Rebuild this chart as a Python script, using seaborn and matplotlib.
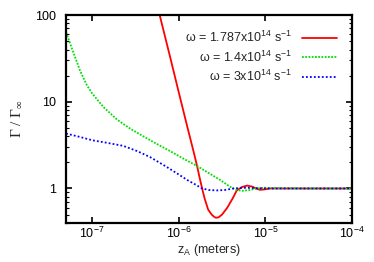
import numpy as np
import pandas as pd
import matplotlib
matplotlib.use('Agg')
import matplotlib.pyplot as plt
import matplotlib.ticker as mticker
import seaborn as sns

# values (log10 of z_A in metres, Gamma/Gamma_inf)
red_logz = [-6.30, -6.22, -6.10, -6.00, -5.90, -5.83, -5.79, -5.76, -5.73, -5.70,
            -5.66, -5.62, -5.59, -5.57, -5.54, -5.50, -5.44, -5.38, -5.33, -5.27, -5.21,
            -5.15, -5.10, -5.06, -5.01, -4.95, -4.89, -4.5, -4.0]
red_g = [210, 100, 33, 12.9, 5.1, 2.7, 1.85, 1.35, 1.0, 0.76,
         0.57, 0.50, 0.47, 0.46, 0.465, 0.50, 0.60, 0.76, 0.95, 1.04, 1.08,
         1.05, 0.99, 0.965, 0.975, 1.0, 1.0, 1.0, 1.0]

green_logz = [-7.30, -7.22, -7.14, -7.06, -7.00, -6.87, -6.71, -6.56, -6.41, -6.25, -6.10,
              -5.95, -5.79, -5.65, -5.52, -5.41, -5.33, -5.26, -5.18, -5.10, -5.00, -4.90,
              -4.5, -4.0]
green_g = [63, 38, 23, 15.5, 12.5, 8.7, 6.2, 4.9, 4.0, 3.25, 2.7,
           2.22, 1.82, 1.5, 1.25, 1.05, 0.96, 0.94, 0.96, 1.0, 1.02, 1.01,
           1.0, 1.0]

blue_logz = [-7.30, -7.15, -7.00, -6.82, -6.64, -6.48, -6.33, -6.15, -6.00, -5.90, -5.80, -5.73,
             -5.65, -5.56, -5.47, -5.37, -5.25, -5.10, -4.95, -4.5, -4.0]
blue_g = [4.3, 3.95, 3.6, 3.35, 3.1, 2.7, 2.3, 1.8, 1.45, 1.25, 1.1, 1.0,
          0.96, 0.95, 0.96, 1.0, 1.02, 1.01, 1.0, 1.0, 1.0]

labels = [r'ω = 1.787x10$^{\mathregular{14}}$ s$^{\mathregular{-1}}$',
          r'ω = 1.4x10$^{\mathregular{14}}$ s$^{\mathregular{-1}}$',
          r'ω = 3x10$^{\mathregular{14}}$ s$^{\mathregular{-1}}$']
colors = ['#ff0000', '#00e000', '#0000ff']
xticks = [1e-7, 1e-6, 1e-5, 1e-4]
yticks = [1, 10, 100]

frames = []
for lz, g, lab in zip([red_logz, green_logz, blue_logz], [red_g, green_g, blue_g], labels):
    frames.append(pd.DataFrame({'z': 10.0 ** np.array(lz), 'g': g, 'curve': lab}))
df = pd.concat(frames, ignore_index=True)

sns.set_style('ticks')
plt.rcParams['font.family'] = ['Liberation Sans', 'DejaVu Sans']
plt.rcParams['mathtext.fontset'] = 'custom'
plt.rcParams['mathtext.rm'] = 'Liberation Sans'
plt.rcParams['font.size'] = 9

fig = plt.figure(figsize=(3.74, 2.62), dpi=100)
ax = fig.add_axes([66 / 374, 1 - 223 / 262, (352 - 66) / 374, (223 - 15) / 262])

sns.lineplot(data=df, x='z', y='g', hue='curve', style='curve', palette=colors,
             dashes=[(None, None), (1, 0.8), (1, 1.2)], sort=False, ax=ax, lw=1.3)

ax.set_xscale('log')
ax.set_yscale('log')
ax.set_xlim(5e-8, 1e-4)
ax.set_ylim(0.4, 100)
ax.set_xticks(xticks)
ax.xaxis.set_major_formatter(mticker.FuncFormatter(
    lambda v, p: r'10$^{\mathregular{%d}}$' % round(np.log10(v))))
ax.set_yticks(yticks)
ax.yaxis.set_major_formatter(mticker.FuncFormatter(lambda v, p: '%g' % v))
ax.xaxis.set_minor_locator(mticker.NullLocator())
ax.yaxis.set_minor_locator(mticker.LogLocator(subs=np.arange(2, 10)))
ax.yaxis.set_minor_formatter(mticker.NullFormatter())
ax.tick_params(which='both', direction='in', top=True, right=True, colors='black',
               labelsize=9)
ax.tick_params(which='major', length=4, width=1.2)
ax.tick_params(which='minor', length=2, width=0.8)
ax.tick_params(axis='x', which='major', pad=2)
ax.tick_params(axis='y', which='major', pad=7)
for s in ax.spines.values():
    s.set_linewidth(1.6)
    s.set_color('black')

ax.set_xlabel(r'z$_{\mathregular{A}}$ (meters)', labelpad=1, fontsize=9)
ax.set_ylabel(r'Γ / Γ$_{\mathregular{∞}}$', family=['Liberation Serif', 'DejaVu Serif'],
              fontsize=11, labelpad=8)

leg = ax.legend(loc='upper right', frameon=False, markerfirst=False, handlelength=2.8,
                fontsize=9, borderaxespad=0.8, labelspacing=0.35, handletextpad=0.8)
for t in leg.get_texts():
    t.set_ha('right')
leg._legend_box.align = 'right'

fig.savefig('out.png', dpi=100)
